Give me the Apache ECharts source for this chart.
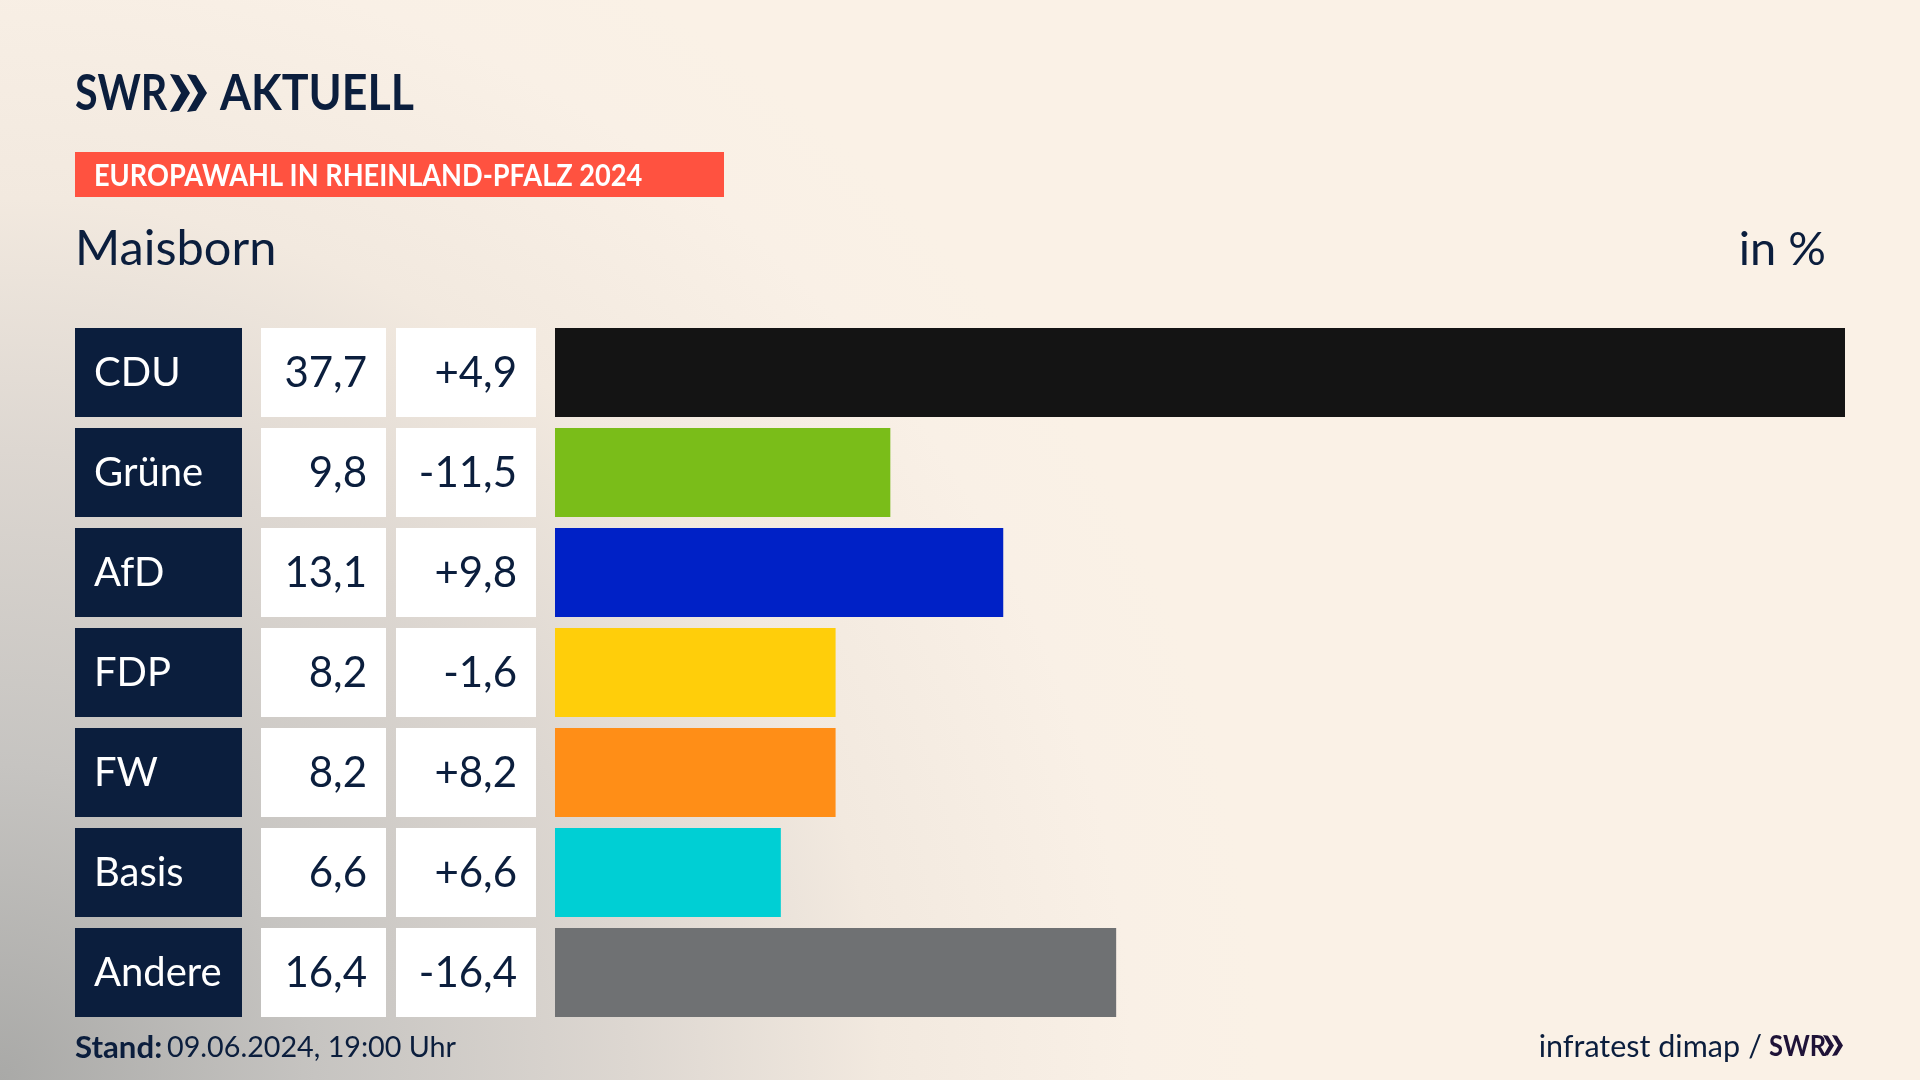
<!DOCTYPE html>
<html><head><meta charset="utf-8">
<style>html,body{margin:0;padding:0;width:1920px;height:1080px;overflow:hidden;background:#faf1e6}#c{width:1920px;height:1080px}</style>
<script src="https://cdn.jsdelivr.net/npm/echarts@6/dist/echarts.min.js"></script>
</head><body><div id="c"></div>
<script>
const categories = ['CDU','Grüne','AfD','FDP','FW','Basis','Andere'];
const shares = [37.7,9.8,13.1,8.2,8.2,6.6,16.4];
const changes = [4.9,-11.5,9.8,-1.6,8.2,6.6,-16.4];
const barColors = ['#141414','#7abd19','#0021c6','#ffce0a','#ff8e17','#00cfd4','#6f7173'];
const title = 'EUROPAWAHL IN RHEINLAND-PFALZ 2024';
const place = 'Maisborn';
const unit = 'in %';

const NAVY = '#0b1e3d', FONT = 'Lato';
const fmt = v => v.toFixed(1).replace('.', ',');
const fmtSigned = v => (v > 0 ? '+' : '') + fmt(v);

const chart = echarts.init(document.getElementById('c'), null, {renderer:'canvas'});
const txt = (x,y,text,size,opt={}) => ({type:'text',x,y,scaleX:opt.sx||1,silent:true,style:{
  text,font:`${opt.weight||'normal'} ${size}px ${opt.family||FONT}`,fill:opt.fill||NAVY,
  align:opt.align||'left',verticalAlign:'middle'}});
const chevrons = (x,y,h,w,off,fill) => [0,1].map(k=>({type:'polygon',silent:true,shape:{points:[
  [x+k*off,y],[x+k*off+w*0.45,y+0.03*h],[x+k*off+w,y+h/2],[x+k*off+w*0.45,y+h*0.97],[x+k*off,y+h],[x+k*off+w*0.55,y+h/2]]},style:{fill}}));

chart.setOption({
  animation:false,
  backgroundColor:new echarts.graphic.RadialGradient(0,1080,1260,[
    {offset:0,color:'#a9a9a7'},{offset:0.25,color:'#c6c4c1'},{offset:0.5,color:'#ddd7d1'},
    {offset:0.7,color:'#f2e9df'},{offset:0.9,color:'#f9f0e6'},{offset:1,color:'#faf1e6'}],true),
  grid:{left:555,top:322.5,width:1290,height:700},
  xAxis:{type:'value',min:0,max:37.7,show:false},
  yAxis:{type:'category',inverse:true,data:categories,show:false},
  series:[
    {type:'bar',barWidth:89,silent:true,data:shares.map((v,i)=>({value:v,itemStyle:{color:barColors[i]}}))},
    {type:'custom',silent:true,clip:false,
     data:categories.map((c,i)=>[0,i]),
     encode:{x:0,y:1},
     renderItem(params,api){
       const i=api.value(1);
       const cy=api.coord([0,i])[1], h=89, y=cy-h/2;
       const rect=(x,w,fill)=>({type:'rect',shape:{x,y,width:w,height:h},style:{fill}});
       const t=(x,text,fill,align,size)=>({type:'text',x,y:cy+1,style:{text,font:`${size}px ${FONT}`,fill,align,verticalAlign:'middle'}});
       return {type:'group',children:[
         rect(75,167,NAVY),rect(261,125,'#ffffff'),rect(396,140,'#ffffff'),
         t(94,categories[i],'#ffffff','left',40),
         t(367,fmt(shares[i]),NAVY,'right',42),
         t(517,fmtSigned(changes[i]),NAVY,'right',42)]};
     }}
  ],
  graphic:{elements:[
    txt(75,94,'SWR',50,{weight:'bold',sx:0.825}),
    ...chevrons(170,74,38,20,17,NAVY),
    txt(220,94,'AKTUELL',50,{weight:'bold',sx:0.895}),
    {type:'rect',silent:true,shape:{x:75,y:152,width:649,height:45},style:{fill:'#ff5240'}},
    txt(94,176,title,30,{weight:'bold',fill:'#ffffff',sx:0.905}),
    txt(75,250,place,48,{sx:1.015}),
    txt(1826,250,unit,47,{align:'right'}),
    txt(75,1048,'Stand:',30,{weight:'bold',sx:1.04}),
    txt(167,1048,'09.06.2024, 19:00 Uhr',29,{sx:0.99}),
    txt(1740,1047,'infratest dimap',30.5,{align:'right'}),
    txt(1762,1047,'/',30.5,{align:'right'}),
    txt(1769,1047,'SWR',29,{weight:'bold',fill:'#1f1338',sx:0.88}),
    ...chevrons(1823,1035,21,11,9,'#1f1338')
  ]}
});
</script></body></html>
